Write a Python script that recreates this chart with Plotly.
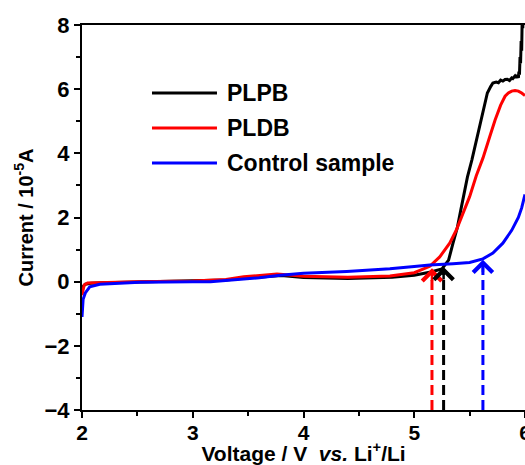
import plotly.graph_objects as go

# ---- data ----
plpb_v = [2.0, 2.01, 2.03, 2.08, 2.2, 2.5, 3.0, 3.3, 3.5, 3.7, 3.8, 3.9, 4.0, 4.4, 4.8, 5.0, 5.15, 5.25,
          5.28, 5.31, 5.35, 5.39, 5.42, 5.45, 5.48, 5.52, 5.56, 5.60, 5.63, 5.66, 5.69, 5.71, 5.74, 5.76,
          5.78, 5.80, 5.82, 5.84, 5.86, 5.88, 5.89, 5.90, 5.91, 5.92, 5.93, 5.94, 5.945, 5.95, 5.955,
          5.96, 5.965, 5.97, 5.975, 5.98, 5.985, 5.99, 6.0]
plpb_i = [-0.3, -0.15, -0.08, -0.05, -0.03, -0.01, 0.01, 0.05, 0.12, 0.18, 0.19, 0.16, 0.13, 0.1, 0.14, 0.2,
          0.3, 0.4, 0.52, 0.67, 1.2, 1.7, 2.23, 2.76, 3.26, 3.79, 4.4, 5.04, 5.5, 5.88, 6.08, 6.19, 6.22,
          6.2, 6.28, 6.25, 6.3, 6.31, 6.27, 6.35, 6.33, 6.38, 6.41, 6.36, 6.44, 6.35, 6.55, 6.45, 7.0,
          6.8, 7.5, 7.2, 8.3, 7.9, 8.5, 8.2, 8.6]

pldb_v = [2.0, 2.01, 2.02, 2.05, 2.2, 2.5, 3.0, 3.3, 3.46, 3.6, 3.76, 3.9, 4.0, 4.4, 4.78, 5.0, 5.11,
          5.14, 5.23, 5.32, 5.38, 5.44, 5.50, 5.56, 5.62, 5.68, 5.73, 5.78, 5.82, 5.85, 5.88, 5.91, 5.94,
          5.97, 6.0]
pldb_i = [-0.42, -0.2, -0.1, -0.04, -0.02, 0.0, 0.02, 0.07, 0.15, 0.2, 0.24, 0.2, 0.17, 0.14, 0.18, 0.28,
          0.42, 0.48, 0.77, 1.2, 1.61, 2.14, 2.65, 3.3, 3.85, 4.5, 5.04, 5.5, 5.78, 5.88, 5.94, 5.96, 5.94,
          5.88, 5.8]

ctrl_v = [2.0, 2.005, 2.01, 2.03, 2.07, 2.16, 2.3, 2.52, 3.0, 3.16, 3.46, 3.6, 3.79, 3.85, 4.0, 4.39,
          4.78, 5.0, 5.14, 5.35, 5.5, 5.62, 5.71, 5.8, 5.88, 5.94, 5.97, 6.0]
ctrl_i = [-1.1, -0.8, -0.55, -0.35, -0.16, -0.08, -0.05, -0.02, 0.0, 0.0, 0.08, 0.12, 0.2, 0.22, 0.26,
          0.32, 0.4, 0.47, 0.52, 0.56, 0.6, 0.71, 0.89, 1.2, 1.6, 2.0, 2.3, 2.72]

series_names = ["PLPB", "PLDB", "Control sample"]
series_colors = ["#000000", "#ff0000", "#0000ff"]

# onset-potential markers (dashed arrows)
arrow_v = [5.16, 5.265, 5.62]
arrow_i = [0.42, 0.46, 0.68]
arrow_colors = ["#ff0000", "#000000", "#0000ff"]

x_range = [2, 6]
y_range = [-4, 8]

FONT = "Arial, 'Liberation Sans', sans-serif"

fig = go.Figure()

# dashed arrows
for v, i, c in zip(arrow_v, arrow_i, arrow_colors):
    fig.add_trace(go.Scatter(x=[v, v], y=[y_range[0], i - 0.2], mode="lines",
                             line=dict(color=c, width=3, dash="10px,5px"),
                             showlegend=False, hoverinfo="skip"))

for xs, ys, nm, col in zip([plpb_v, pldb_v, ctrl_v], [plpb_i, pldb_i, ctrl_i], series_names, series_colors):
    fig.add_trace(go.Scatter(x=xs, y=ys, mode="lines", name=nm,
                             line=dict(color=col, width=3), showlegend=False))

annotations = []
for v, i, c in zip(arrow_v, arrow_i, arrow_colors):
    annotations.append(dict(x=v, y=i, xref="x", yref="y", ax=0, ay=14, axref="pixel", ayref="pixel",
                            showarrow=True, arrowhead=4, arrowsize=1.5, arrowwidth=2.5,
                            arrowcolor=c, text=""))

# manual legend
shapes = []
leg_y = [0.8234, 0.7325, 0.6416]
for nm, col, yy in zip(series_names, series_colors, leg_y):
    shapes.append(dict(type="line", xref="paper", yref="paper", x0=0.158, x1=0.3047, y0=yy, y1=yy,
                       line=dict(color=col, width=3)))
    annotations.append(dict(x=0.3228, y=yy, xref="paper", yref="paper", text=nm, showarrow=False,
                            xanchor="left", yanchor="middle",
                            font=dict(family=FONT, size=23, color="black", weight="bold")))

axis_common = dict(showline=True, linecolor="black", linewidth=2, mirror=True, ticks="outside",
                   tickwidth=2, ticklen=6, tickcolor="black", showgrid=False, zeroline=False,
                   ticklabeloverflow="allow", automargin=False)

fig.update_layout(
    width=525, height=465,
    margin=dict(l=82, r=0, t=25, b=55),
    paper_bgcolor="white", plot_bgcolor="white",
    shapes=shapes, annotations=annotations,
    xaxis=dict(range=x_range, dtick=1, tick0=2, ticklabelstandoff=-3,
               tickfont=dict(family=FONT, size=21, color="black", weight="bold"),
               minor=dict(ticks="outside", ticklen=4, tickwidth=2, tickcolor="black", dtick=0.5),
               title=dict(text="Voltage / V  <i>vs.</i> Li<sup>+</sup>/Li", standoff=7,
                          font=dict(family=FONT, size=21, color="black", weight="bold")),
               **axis_common),
    yaxis=dict(range=y_range, dtick=2, tick0=0,
               tickfont=dict(family=FONT, size=22, color="black", weight="bold"),
               minor=dict(ticks="outside", ticklen=4, tickwidth=2, tickcolor="black", dtick=1),
               title=dict(text="Current / 10<sup>-5</sup>A", standoff=6,
                          font=dict(family=FONT, size=20, color="black", weight="bold")),
               **axis_common),
)

fig.write_html("out.html")
